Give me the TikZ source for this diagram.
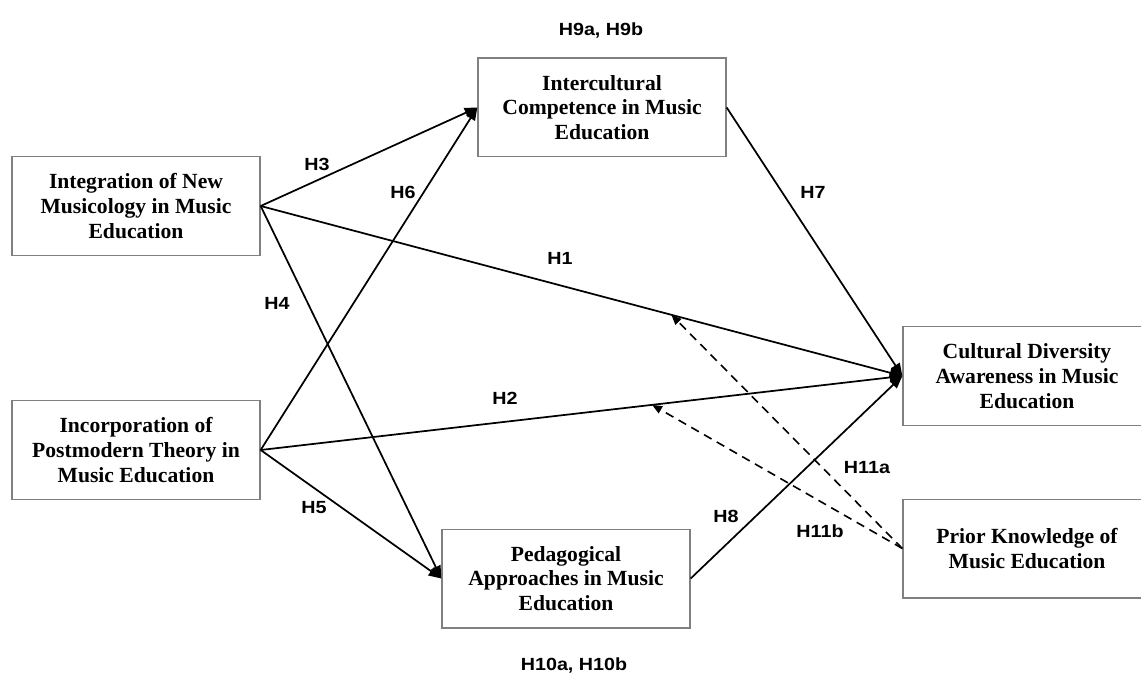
\documentclass[tikz,border=0pt]{standalone}
\usepackage{fontspec}
\setmainfont{Liberation Serif}
\newfontfamily\hypfont[FakeStretch=1.12]{Liberation Sans}
\usetikzlibrary{arrows.meta}

\begin{document}
\begin{tikzpicture}[x=0.75pt,y=-0.75pt,
    box/.style={draw=gray,line width=1pt,minimum width=186pt,minimum height=74pt,
      inner sep=0pt,align=center,font=\fontsize{16.2}{18.5}\selectfont\bfseries},
    hyp/.style={inner sep=0pt,font=\hypfont\fontsize{13.2}{15}\selectfont\bfseries},
    link/.style={line width=1.3pt,-{Triangle[length=9.5pt,width=7.5pt]}},
    moder/.style={line width=1.2pt,dash pattern=on 6.5pt off 4.5pt,-{Triangle[length=7.5pt,width=6pt]}}]
    \useasboundingbox (0,0) rectangle (1141,673);
    % constructs
    \node[box] (newmus)    at (136,206)   {Integration of New\\Musicology in Music\\Education};
    \node[box] (postmod)   at (136,450)   {Incorporation of\\Postmodern Theory in\\Music Education};
    \node[box] (intercomp) at (602,107.5) {Intercultural\\Competence in Music\\Education};
    \node[box] (pedag)     at (566,578.5) {Pedagogical\\Approaches in Music\\Education};
    \node[box] (culdiv)    at (1027,376)  {Cultural Diversity\\Awareness in Music\\Education};
    \node[box] (prior)     at (1027,548.5){Prior Knowledge of\\Music Education};
    % paths
    \foreach \s/\t in {newmus/intercomp,postmod/intercomp,newmus/pedag,postmod/pedag}{\draw[link] (\s.east) -- (\t.west);};
    \draw[link] (newmus.east) -- coordinate[pos=0.64] (m1) (culdiv.west);
    \draw[link] (postmod.east) -- coordinate[pos=0.61] (m2) (culdiv.west);
    \draw[link] (intercomp.east) -- (culdiv.west);
    \draw[link] (pedag.east) -- (culdiv.west);
    \foreach \m in {m1,m2}{\draw[moder] (prior.west) -- (\m);};
    % hypotheses
    \node[hyp] (h9)  at (601,30)  {H9a, H9b};
    \node[hyp] (h3)  at (317,164) {H3};
    \node[hyp] (h6)  at (403,192) {H6};
    \node[hyp] (h7)  at (813,192) {H7};
    \node[hyp] (h1)  at (560,258) {H1};
    \node[hyp] (h4)  at (277,303) {H4};
    \node[hyp] (h2)  at (505,398) {H2};
    \node[hyp] (h5)  at (314,508) {H5};
    \node[hyp] (h8)  at (726,516) {H8};
    \node[hyp] (h11a) at (867,468) {H11a};
    \node[hyp] (h11b) at (820,531) {H11b};
    \node[hyp] (h10) at (574,665) {H10a, H10b};
  \end{tikzpicture}
\end{document}
